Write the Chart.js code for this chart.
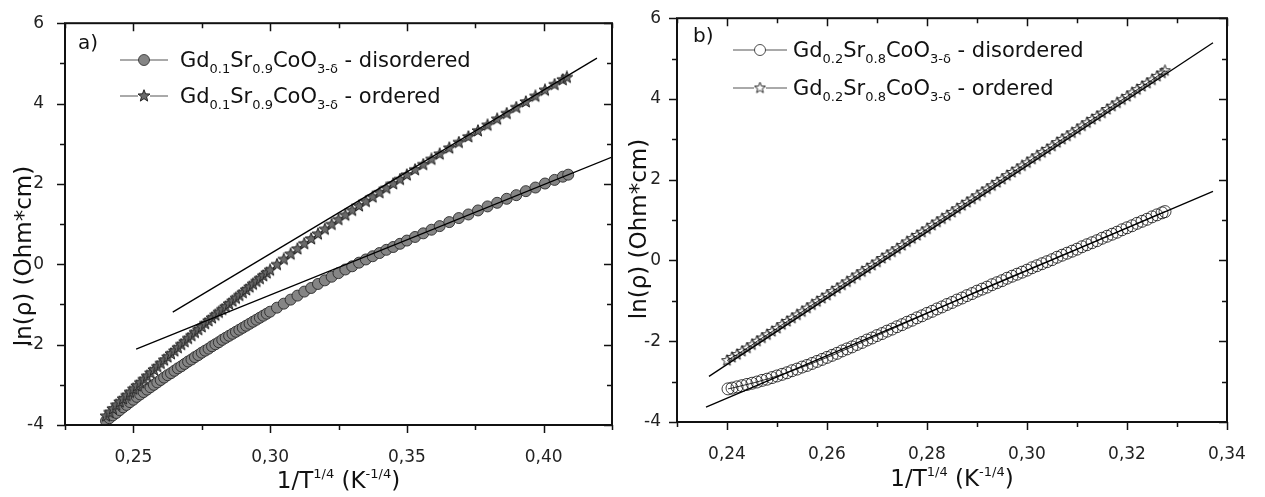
<!DOCTYPE html>
<html>
<head>
<meta charset="utf-8">
<script src="https://cdn.jsdelivr.net/npm/chart.js@4.4.1/dist/chart.umd.min.js"></script>
<style>
  html, body { margin: 0; padding: 0; background: #fff; }
  #wrap { position: relative; width: 1265px; height: 497px; }
  #chartA { position: absolute; left: 0; top: 0; }
  #chartB { position: absolute; left: 620px; top: 0; }
</style>
</head>
<body>
<div id="wrap">
  <canvas id="chartA" width="635" height="497"></canvas>
  <canvas id="chartB" width="645" height="497"></canvas>
</div>
<script>
// панель a) Gd0.1Sr0.9CoO3-d
const aDisX = [0.24000,0.24125,0.24250,0.24375,0.24500,0.24625,0.24750,0.24875,0.25000,0.25125,0.25250,0.25375,0.25500,0.25625,0.25750,0.25875,0.26000,0.26125,0.26250,0.26375,0.26500,0.26625,0.26750,0.26875,0.27000,0.27125,0.27250,0.27375,0.27500,0.27625,0.27750,0.27875,0.28000,0.28125,0.28250,0.28375,0.28500,0.28625,0.28750,0.28875,0.29000,0.29125,0.29250,0.29375,0.29500,0.29625,0.29750,0.29875,0.3000,0.3025,0.3050,0.3075,0.3100,0.3125,0.3150,0.3175,0.3200,0.3225,0.3250,0.3275,0.3300,0.3325,0.3350,0.3375,0.3400,0.3425,0.3450,0.3475,0.3500,0.3530,0.3560,0.3590,0.3620,0.3655,0.3690,0.3725,0.3760,0.3795,0.3830,0.3865,0.3900,0.3935,0.3970,0.4005,0.4040,0.4070,0.4090];
const aDisY = [-3.90,-3.83,-3.76,-3.70,-3.63,-3.56,-3.50,-3.43,-3.37,-3.30,-3.24,-3.18,-3.12,-3.06,-3.00,-2.94,-2.88,-2.82,-2.76,-2.71,-2.65,-2.59,-2.54,-2.48,-2.42,-2.37,-2.31,-2.26,-2.20,-2.15,-2.10,-2.04,-1.99,-1.94,-1.88,-1.83,-1.78,-1.73,-1.68,-1.63,-1.58,-1.53,-1.48,-1.43,-1.38,-1.33,-1.28,-1.23,-1.18,-1.08,-0.98,-0.88,-0.78,-0.68,-0.59,-0.49,-0.40,-0.31,-0.22,-0.13,-0.05,0.04,0.12,0.20,0.28,0.36,0.43,0.51,0.59,0.68,0.77,0.86,0.95,1.05,1.15,1.24,1.34,1.44,1.53,1.63,1.72,1.82,1.91,2.01,2.10,2.18,2.23];
const aOrdX = [0.24000,0.24125,0.24250,0.24375,0.24500,0.24625,0.24750,0.24875,0.25000,0.25125,0.25250,0.25375,0.25500,0.25625,0.25750,0.25875,0.26000,0.26125,0.26250,0.26375,0.26500,0.26625,0.26750,0.26875,0.27000,0.27125,0.27250,0.27375,0.27500,0.27625,0.27750,0.27875,0.28000,0.28125,0.28250,0.28375,0.28500,0.28625,0.28750,0.28875,0.29000,0.29125,0.29250,0.29375,0.29500,0.29625,0.29750,0.29875,0.3000,0.3025,0.3050,0.3075,0.3100,0.3125,0.3150,0.3175,0.3200,0.3225,0.3250,0.3275,0.3300,0.3325,0.3350,0.3375,0.3400,0.3425,0.3450,0.3475,0.3500,0.3530,0.3560,0.3590,0.3620,0.3655,0.3690,0.3725,0.3760,0.3795,0.3830,0.3865,0.3900,0.3935,0.3970,0.4005,0.4040,0.4070,0.4085];
const aOrdY = [-3.78,-3.69,-3.60,-3.51,-3.43,-3.35,-3.27,-3.19,-3.11,-3.03,-2.95,-2.87,-2.79,-2.71,-2.63,-2.55,-2.47,-2.39,-2.31,-2.23,-2.16,-2.08,-2.00,-1.93,-1.85,-1.78,-1.70,-1.63,-1.56,-1.48,-1.41,-1.34,-1.27,-1.20,-1.13,-1.06,-0.99,-0.92,-0.85,-0.78,-0.71,-0.64,-0.57,-0.50,-0.43,-0.36,-0.29,-0.22,-0.15,-0.01,0.12,0.25,0.38,0.51,0.63,0.75,0.87,0.99,1.11,1.22,1.34,1.45,1.56,1.67,1.78,1.89,2.00,2.11,2.22,2.35,2.48,2.61,2.74,2.89,3.03,3.17,3.32,3.46,3.61,3.75,3.90,4.04,4.18,4.33,4.47,4.59,4.65];
const aFitDisX = [0.251, 0.425];
const aFitDisY = [-2.11, 2.67];
const aFitOrdX = [0.2644, 0.4195];
const aFitOrdY = [-1.19, 5.13];

// панель b) Gd0.2Sr0.8CoO3-d
const bDisX = [0.2402,0.241,0.242,0.243,0.244,0.245,0.246,0.247,0.248,0.249,0.250,0.251,0.252,0.253,0.254,0.255,0.256,0.257,0.258,0.259,0.260,0.261,0.262,0.263,0.264,0.265,0.266,0.267,0.268,0.269,0.270,0.271,0.272,0.273,0.274,0.275,0.276,0.277,0.278,0.279,0.280,0.281,0.282,0.283,0.284,0.285,0.286,0.287,0.288,0.289,0.290,0.291,0.292,0.293,0.294,0.295,0.296,0.297,0.298,0.299,0.300,0.301,0.302,0.303,0.304,0.305,0.306,0.307,0.308,0.309,0.310,0.311,0.312,0.313,0.314,0.315,0.316,0.317,0.318,0.319,0.320,0.321,0.322,0.323,0.324,0.325,0.326,0.327,0.3276];
const bDisY = [-3.18,-3.16,-3.13,-3.10,-3.07,-3.04,-3.01,-2.97,-2.94,-2.90,-2.86,-2.82,-2.78,-2.73,-2.69,-2.64,-2.60,-2.55,-2.50,-2.45,-2.40,-2.35,-2.30,-2.24,-2.19,-2.14,-2.08,-2.03,-1.97,-1.92,-1.86,-1.81,-1.75,-1.70,-1.64,-1.59,-1.53,-1.48,-1.42,-1.37,-1.31,-1.26,-1.20,-1.15,-1.09,-1.04,-0.98,-0.93,-0.87,-0.82,-0.76,-0.71,-0.66,-0.60,-0.55,-0.50,-0.44,-0.39,-0.34,-0.29,-0.24,-0.18,-0.13,-0.08,-0.03,0.02,0.08,0.13,0.18,0.23,0.28,0.34,0.39,0.44,0.49,0.55,0.60,0.65,0.70,0.76,0.81,0.86,0.92,0.97,1.02,1.08,1.13,1.18,1.21];
const bOrdX = [0.240,0.241,0.242,0.243,0.244,0.245,0.246,0.247,0.248,0.249,0.250,0.251,0.252,0.253,0.254,0.255,0.256,0.257,0.258,0.259,0.260,0.261,0.262,0.263,0.264,0.265,0.266,0.267,0.268,0.269,0.270,0.271,0.272,0.273,0.274,0.275,0.276,0.277,0.278,0.279,0.280,0.281,0.282,0.283,0.284,0.285,0.286,0.287,0.288,0.289,0.290,0.291,0.292,0.293,0.294,0.295,0.296,0.297,0.298,0.299,0.300,0.301,0.302,0.303,0.304,0.305,0.306,0.307,0.308,0.309,0.310,0.311,0.312,0.313,0.314,0.315,0.316,0.317,0.318,0.319,0.320,0.321,0.322,0.323,0.324,0.325,0.326,0.327,0.3276];
const bOrdY = [-2.48,-2.40,-2.33,-2.25,-2.17,-2.09,-2.00,-1.92,-1.84,-1.76,-1.68,-1.59,-1.51,-1.43,-1.35,-1.27,-1.18,-1.10,-1.02,-0.94,-0.86,-0.77,-0.69,-0.61,-0.53,-0.45,-0.36,-0.28,-0.20,-0.12,-0.04,0.05,0.13,0.21,0.29,0.37,0.46,0.54,0.62,0.70,0.78,0.87,0.95,1.03,1.11,1.19,1.28,1.36,1.44,1.52,1.60,1.69,1.77,1.85,1.93,2.01,2.10,2.18,2.26,2.34,2.42,2.51,2.59,2.67,2.75,2.83,2.92,3.00,3.08,3.16,3.24,3.33,3.41,3.49,3.57,3.65,3.74,3.82,3.90,3.98,4.06,4.15,4.23,4.31,4.39,4.47,4.56,4.64,4.70];
const bFitDisX = [0.2358, 0.3372];
const bFitDisY = [-3.63, 1.71];
const bFitOrdX = [0.2364, 0.3372];
const bFitOrdY = [-2.87, 5.39];

const FONT = '"DejaVu Sans", Arial, sans-serif';

function toPoints(xs, ys) {
    return xs.map((x, i) => ({ x: x, y: ys[i] }));
}

// закрашенная / пустая звезда как pointStyle
function makeStar(size, fill, stroke, lw) {
    const c = document.createElement('canvas');
    c.width = c.height = size;
    const g = c.getContext('2d');
    const r = size / 2 - 0.7, ri = r * 0.42;
    g.beginPath();
    for (let i = 0; i < 10; i++) {
        const ang = -Math.PI / 2 + i * Math.PI / 5;
        const rr = i % 2 ? ri : r;
        g.lineTo(size / 2 + rr * Math.cos(ang), size / 2 + rr * Math.sin(ang));
    }
    g.closePath();
    g.fillStyle = fill;
    g.fill();
    g.strokeStyle = stroke;
    g.lineWidth = lw;
    g.stroke();
    return c;
}

const starA = makeStar(14, '#6a6a6a', '#222', 1);
const starB = makeStar(13, 'rgba(255,255,255,0)', '#111', 0.9);

// текст с индексами: [строка, 0 - обычный, 1 - нижний, 2 - верхний]
function drawRich(ctx, parts, x, y, size, small, align) {
    let total = 0;
    parts.forEach(([t, m]) => {
        ctx.font = (m ? small : size) + 'px ' + FONT;
        total += ctx.measureText(t).width;
    });
    let cx = align === 'center' ? x - total / 2 : x;
    ctx.textAlign = 'left';
    ctx.textBaseline = 'alphabetic';
    parts.forEach(([t, m]) => {
        ctx.font = (m ? small : size) + 'px ' + FONT;
        const dy = m === 1 ? size * 0.28 : (m === 2 ? -size * 0.45 : 0);
        ctx.fillText(t, cx, y + dy);
        cx += ctx.measureText(t).width;
    });
}

function formulaParts(a, b, tail) {
    return [['Gd', 0], [a, 1], ['Sr', 0], [b, 1], ['CoO', 0], ['3-\u03b4', 1], [tail, 0]];
}

const xTitleParts = [['1/T', 0], ['1/4', 2], [' (K', 0], ['-1/4', 2], [')', 0]];

const decor = {
    id: 'decor',
    afterDraw(chart, args, o) {
        const ctx = chart.ctx;
        const area = chart.chartArea;
        const xs = chart.scales.x, ys = chart.scales.y;
        ctx.save();
        ctx.strokeStyle = '#111';
        ctx.lineWidth = 1.5;
        ctx.beginPath();
        xs.ticks.forEach(t => {
            const p = Math.round(xs.getPixelForValue(t.value)) + 0.5;
            const len = t.label ? 8 : 5;
            ctx.moveTo(p, area.bottom); ctx.lineTo(p, area.bottom + len);
            ctx.moveTo(p, area.top); ctx.lineTo(p, area.top + len);
        });
        ys.ticks.forEach(t => {
            const p = Math.round(ys.getPixelForValue(t.value)) + 0.5;
            const len = t.label ? 8 : 5;
            ctx.moveTo(area.left - len, p); ctx.lineTo(area.left, p);
            ctx.moveTo(area.right - len, p); ctx.lineTo(area.right, p);
        });
        ctx.stroke();
        ctx.lineWidth = 2;
        ctx.strokeRect(area.left, area.top, area.right - area.left, area.bottom - area.top);

        ctx.fillStyle = '#111';
        // подпись панели
        ctx.font = '20px ' + FONT;
        ctx.textAlign = 'left';
        ctx.textBaseline = 'alphabetic';
        ctx.fillText(o.tag, o.tagX, o.tagY);

        // подписи осей
        drawRich(ctx, xTitleParts, (area.left + area.right) / 2, o.xTitleY, 23, 13, 'center');
        ctx.save();
        ctx.translate(o.yTitleX, o.yTitleY);
        ctx.rotate(-Math.PI / 2);
        ctx.font = '23px ' + FONT;
        ctx.textAlign = 'center';
        ctx.textBaseline = 'middle';
        ctx.fillText('ln(\u03c1) (Ohm*cm)', 0, 0);
        ctx.restore();

        // легенда
        o.legend.forEach(item => {
            ctx.strokeStyle = '#555';
            ctx.lineWidth = 1;
            ctx.beginPath();
            ctx.moveTo(o.legX1, item.y); ctx.lineTo(o.legX2, item.y);
            ctx.stroke();
            const mx = (o.legX1 + o.legX2) / 2;
            if (item.marker === 'circle') {
                ctx.beginPath();
                ctx.arc(mx, item.y, 5.5, 0, Math.PI * 2);
                ctx.fillStyle = item.fill;
                ctx.fill();
                ctx.strokeStyle = item.stroke;
                ctx.lineWidth = 0.8;
                ctx.stroke();
            } else {
                ctx.fillStyle = '#fff';
                ctx.fillRect(mx - 6, item.y - 6, 12, 12);
                ctx.drawImage(item.img, mx - item.img.width / 2, item.y - item.img.height / 2);
            }
            ctx.fillStyle = '#111';
            drawRich(ctx, item.parts, o.legTextX, item.y + 7, 21, 13, 'left');
        });
        ctx.restore();
    }
};

function yTicks(v) {
    const r = Math.round(v);
    return r % 2 === 0 ? String(r) : '';
}

function buildOptions(xMin, xMax, xStep, isMajorX, yWidth, yPad, xHeight, pad, decorOpts) {
    return {
        responsive: false,
        animation: false,
        devicePixelRatio: 1,
        layout: { padding: pad },
        plugins: {
            legend: { display: false },
            tooltip: { enabled: false },
            decor: decorOpts
        },
        scales: {
            x: {
                type: 'linear',
                min: xMin,
                max: xMax,
                grid: { display: false },
                border: { display: false },
                afterFit: s => { s.height = xHeight; },
                ticks: {
                    stepSize: xStep,
                    maxTicksLimit: 30,
                    maxRotation: 0,
                    autoSkip: false,
                    padding: 14,
                    color: '#222',
                    font: { family: FONT, size: 17 },
                    callback: v => isMajorX(v) ? v.toFixed(2).replace('.', ',') : ''
                }
            },
            y: {
                type: 'linear',
                min: -4,
                max: 6,
                grid: { display: false },
                border: { display: false },
                afterFit: s => { s.width = yWidth; },
                ticks: {
                    stepSize: 1,
                    autoSkip: false,
                    padding: yPad,
                    color: '#222',
                    font: { family: FONT, size: 17 },
                    callback: yTicks
                }
            }
        }
    };
}

function fitSet(xs, ys) {
    return {
        data: toPoints(xs, ys),
        showLine: true,
        borderColor: '#000',
        borderWidth: 1.3,
        pointRadius: 0,
        order: 0
    };
}

// a)
new Chart(document.getElementById('chartA'), {
    type: 'scatter',
    data: {
        datasets: [
            fitSet(aFitDisX, aFitDisY),
            fitSet(aFitOrdX, aFitOrdY),
            {
                data: toPoints(aOrdX, aOrdY),
                showLine: true,
                borderColor: '#333',
                borderWidth: 1,
                pointStyle: starA,
                order: 1
            },
            {
                data: toPoints(aDisX, aDisY),
                showLine: true,
                borderColor: '#333',
                borderWidth: 1,
                pointStyle: 'circle',
                pointRadius: 5.5,
                pointBackgroundColor: '#858585',
                pointBorderColor: '#2a2a2a',
                pointBorderWidth: 0.9,
                order: 2
            }
        ]
    },
    options: buildOptions(0.225, 0.425, 0.025,
        v => Math.abs(v * 20 - Math.round(v * 20)) < 1e-6,
        65, 13, 72, { top: 23, right: 23, left: 0, bottom: 0 },
        {
            tag: 'a)', tagX: 78, tagY: 49,
            xTitleY: 488, yTitleX: 25, yTitleY: 256,
            legX1: 120, legX2: 168, legTextX: 180,
            legend: [
                { y: 60, marker: 'circle', fill: '#858585', stroke: '#2a2a2a', parts: formulaParts('0.1', '0.9', ' - disordered') },
                { y: 96, marker: 'star', img: starA, parts: formulaParts('0.1', '0.9', ' - ordered') }
            ]
        }),
    plugins: [decor]
});

// b)
new Chart(document.getElementById('chartB'), {
    type: 'scatter',
    data: {
        datasets: [
            fitSet(bFitDisX, bFitDisY),
            fitSet(bFitOrdX, bFitOrdY),
            {
                data: toPoints(bOrdX, bOrdY),
                showLine: true,
                borderColor: '#333',
                borderWidth: 1,
                pointStyle: starB,
                order: 1
            },
            {
                data: toPoints(bDisX, bDisY),
                showLine: true,
                borderColor: '#333',
                borderWidth: 1,
                pointStyle: 'circle',
                pointRadius: 6,
                pointBackgroundColor: 'rgba(255,255,255,0)',
                pointBorderColor: '#111',
                pointBorderWidth: 0.8,
                order: 2
            }
        ]
    },
    options: buildOptions(0.23, 0.34, 0.01,
        v => Math.round(v * 100) % 2 === 0,
        57, 8, 75, { top: 16, right: 38, left: 0, bottom: 0 },
        {
            tag: 'b)', tagX: 73, tagY: 42,
            xTitleY: 486, yTitleX: 20, yTitleY: 229,
            legX1: 113, legX2: 167, legTextX: 173,
            legend: [
                { y: 50, marker: 'circle', fill: '#fff', stroke: '#222', parts: formulaParts('0.2', '0.8', ' - disordered') },
                { y: 88, marker: 'star', img: starB, parts: formulaParts('0.2', '0.8', ' - ordered') }
            ]
        }),
    plugins: [decor]
});
</script>
</body>
</html>
